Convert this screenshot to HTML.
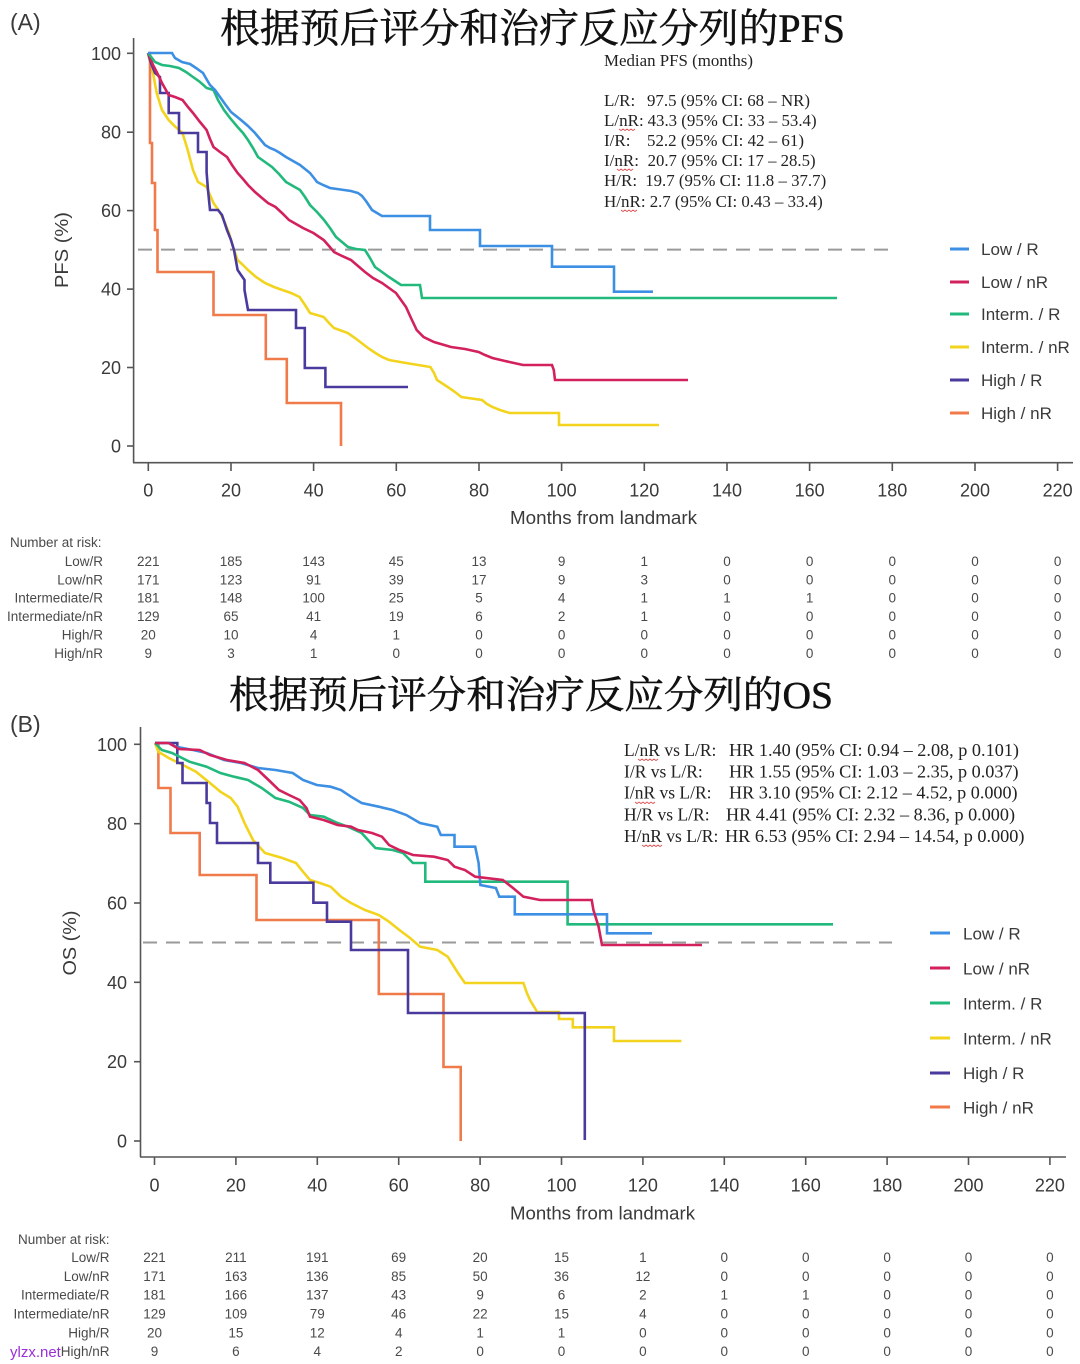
<!DOCTYPE html>
<html><head><meta charset="utf-8"><style>
html,body{margin:0;padding:0;background:#fff;}
svg{display:block;}
.s{font-family:"Liberation Sans",Arial,sans-serif;fill:#3a3a3a;}
.r{font-family:"Liberation Serif","Times New Roman",serif;fill:#222;}
.t{font-family:"Liberation Serif","Noto Serif CJK SC",serif;fill:#111;}
.tk{font-size:18px;}
.tb{font-size:13.5px;fill:#4a4a4a;}
.lg{font-size:17px;}
.c{fill:none;stroke-width:2.6;stroke-linejoin:miter;}
</style></head><body>
<svg width="1080" height="1364" viewBox="0 0 1080 1364" xmlns="http://www.w3.org/2000/svg">
<rect width="1080" height="1364" fill="#fff"/>

<!-- ================= PANEL A ================= -->
<text class="s" x="10" y="30" font-size="23" fill="#333">(A)</text>
<text class="t" x="220" y="42" font-size="40" textLength="625" lengthAdjust="spacingAndGlyphs" stroke="#111" stroke-width="0.5">根据预后评分和治疗反应分列的PFS</text>

<!-- axes A -->
<g stroke="#555" stroke-width="1.6" fill="none">
<line x1="133.6" y1="38" x2="133.6" y2="462.7"/>
<line x1="133" y1="462.7" x2="1073" y2="462.7"/>
<line x1="127" y1="446" x2="133.6" y2="446"/>
<line x1="127" y1="367.5" x2="133.6" y2="367.5"/>
<line x1="127" y1="289.1" x2="133.6" y2="289.1"/>
<line x1="127" y1="210.6" x2="133.6" y2="210.6"/>
<line x1="127" y1="132.2" x2="133.6" y2="132.2"/>
<line x1="127" y1="53.3" x2="133.6" y2="53.3"/>
<line x1="148.3" y1="462.7" x2="148.3" y2="471"/>
<line x1="231" y1="462.7" x2="231" y2="471"/>
<line x1="313.6" y1="462.7" x2="313.6" y2="471"/>
<line x1="396.3" y1="462.7" x2="396.3" y2="471"/>
<line x1="479" y1="462.7" x2="479" y2="471"/>
<line x1="561.6" y1="462.7" x2="561.6" y2="471"/>
<line x1="644.3" y1="462.7" x2="644.3" y2="471"/>
<line x1="727" y1="462.7" x2="727" y2="471"/>
<line x1="809.6" y1="462.7" x2="809.6" y2="471"/>
<line x1="892.3" y1="462.7" x2="892.3" y2="471"/>
<line x1="975" y1="462.7" x2="975" y2="471"/>
<line x1="1057.6" y1="462.7" x2="1057.6" y2="471"/>
</g>
<g class="s tk" text-anchor="end">
<text x="121" y="452.5">0</text>
<text x="121" y="374">20</text>
<text x="121" y="295.6">40</text>
<text x="121" y="217.1">60</text>
<text x="121" y="138.7">80</text>
<text x="121" y="59.8">100</text>
</g>
<g class="s tk" text-anchor="middle">
<text x="148.3" y="496.5">0</text>
<text x="231" y="496.5">20</text>
<text x="313.6" y="496.5">40</text>
<text x="396.3" y="496.5">60</text>
<text x="479" y="496.5">80</text>
<text x="561.6" y="496.5">100</text>
<text x="644.3" y="496.5">120</text>
<text x="727" y="496.5">140</text>
<text x="809.6" y="496.5">160</text>
<text x="892.3" y="496.5">180</text>
<text x="975" y="496.5">200</text>
<text x="1057.6" y="496.5">220</text>
</g>
<text class="s tk" x="510" y="524" textLength="187" lengthAdjust="spacingAndGlyphs">Months from landmark</text>
<text class="s tk" transform="translate(68,250) rotate(-90)" text-anchor="middle" textLength="76" lengthAdjust="spacingAndGlyphs">PFS (%)</text>

<!-- dashed 50% -->
<line x1="138" y1="249.6" x2="892" y2="249.6" stroke="#9a9a9a" stroke-width="2" stroke-dasharray="14 9"/>

<!-- curves A -->
<path class="c" stroke="#f2d41e" d="M148,53 L150,62 L153,73 L156.7,93 L162,110 L168.7,120 L175.6,127 L182.5,133 L187.7,150 L193,170 L198,182 L206.6,187 L210,195 L213.5,203 L220.4,213 L225,223 L229,233 L233,247 L237.6,260 L243,265 L248,270 L256,277 L265,283 L274,287 L282.4,290 L291,293 L299.6,297 L305,305 L310,313 L323.7,317 L329,323 L334,328 L347.8,333 L355,338 L361.6,343 L368,348 L375.4,353 L382,357 L389,360 L406,363 L430.4,367 L434,373 L437,380 L447.7,387 L455,392 L461.4,397 L482,400 L487,404 L492.4,407 L500,410 L509.6,413 L559,413 L559,425 L659,425"/>
<path class="c" stroke="#f07a4a" d="M148,53 L150,53 L150,143 L152,143 L152,183 L155,183 L155,230 L157.5,230 L157.5,272 L213.5,272 L213.5,315 L265.8,315 L265.8,359 L286.8,359 L286.8,403 L341,403 L341,446"/>
<path class="c" stroke="#4b3a9e" d="M148,53 L151,63 L155,73 L160,77 L160,93 L168.7,93 L168.7,113 L179,113 L179,133 L198,133 L198,152 L206.6,152 L206.6,172 L208,190 L210,210 L218,210 L222,215 L227,230 L231,240 L234,250 L237.6,270 L244.5,280 L244.5,290 L248,310 L296,310 L296,328 L304.8,328 L304.8,368 L325.4,368 L325.4,387 L408,387"/>
<path class="c" stroke="#d2215c" d="M148,53 L153,65 L156.7,72 L162,83 L168.7,95 L175,97 L182.5,100 L188,107 L193,113 L200,122 L206.6,130 L210,139 L213.5,147 L220,152 L227,157 L232,165 L237.6,173 L243,179 L248,185 L255,192 L262,198 L268,203 L275.5,207 L282,213 L289,220 L296,224 L303,228 L313.4,233 L323.7,240 L329,246 L334,252 L342,256 L351,260 L358,266 L365,272 L373,278 L382,283 L389,288 L396,293 L401,300 L406,307 L411,318 L416.7,330 L423.6,337 L434,342 L451,347 L465,349 L478.6,352 L485,355 L492.4,358 L505,361 L523,365 L552,365 L553.8,370 L555,380 L688,380"/>
<path class="c" stroke="#22b97c" d="M148,53 L152,58 L155,62 L162,65 L170,66 L179,68 L186,72 L193,77 L200,82 L206.6,88 L213.5,90 L218,100 L224,110 L230,118 L237.6,127 L243,133 L248,140 L253,148 L258,157 L265,162 L272,167 L279,174 L286,182 L293,186 L300,190 L305,197 L310,205 L317,212 L324,220 L330,228 L336,237 L342,242 L348,247 L356,249 L365,250 L370,258 L375,267 L382,272 L389,277 L395,281 L401,285 L420,285 L422,298 L837,298"/>
<path class="c" stroke="#3d8fe3" d="M148,53 L172,53 L175,58 L182,62 L190,64 L196,68 L203,73 L207,80 L210,85 L215,90 L220,97 L225,104 L231,112 L236,116 L241,120 L248,126 L255,133 L260,139 L265,145 L270,148 L275,150 L280,153 L286,157 L293,161 L300,165 L305,169 L310,173 L314,178 L317,182 L323,185 L330,188 L337,189 L344,190 L351,191 L358,193 L362,196 L366,201 L372,210 L377,213 L382,216 L430,216 L430,230 L480,230 L480,246 L552,246 L552,266.7 L614,266.7 L614,291.7 L653,291.7"/>

<!-- median text -->
<g class="r" font-size="17">
<text x="604" y="66" textLength="149" lengthAdjust="spacingAndGlyphs">Median PFS (months)</text>
<text x="604" y="106">L/R:</text><text x="647" y="106" textLength="163" lengthAdjust="spacingAndGlyphs">97.5 (95% CI: 68 – NR)</text>
<text x="604" y="126">L/nR:</text><text x="647.6" y="126" textLength="169" lengthAdjust="spacingAndGlyphs">43.3 (95% CI: 33 – 53.4)</text>
<text x="604" y="146">I/R:</text><text x="647" y="146" textLength="157" lengthAdjust="spacingAndGlyphs">52.2 (95% CI: 42 – 61)</text>
<text x="604" y="166">I/nR:</text><text x="647.6" y="166" textLength="168" lengthAdjust="spacingAndGlyphs">20.7 (95% CI: 17 – 28.5)</text>
<text x="604" y="186">H/R:</text><text x="645.2" y="186" textLength="181" lengthAdjust="spacingAndGlyphs">19.7 (95% CI: 11.8 – 37.7)</text>
<text x="604" y="207">H/nR:</text><text x="649.7" y="207" textLength="173" lengthAdjust="spacingAndGlyphs">2.7 (95% CI: 0.43 – 33.4)</text>
</g>
<g fill="none" stroke="#e05050" stroke-width="0.9">
<path d="M619,129 l2,1.5 l2,-1.5 l2,1.5 l2,-1.5 l2,1.5 l2,-1.5 l2,1.5 l2,-1.5"/>
<path d="M617,169 l2,1.5 l2,-1.5 l2,1.5 l2,-1.5 l2,1.5 l2,-1.5 l2,1.5 l2,-1.5"/>
<path d="M621,210 l2,1.5 l2,-1.5 l2,1.5 l2,-1.5 l2,1.5 l2,-1.5 l2,1.5 l2,-1.5"/>
</g>

<!-- legend A -->
<g stroke-width="3">
<line x1="950" y1="249" x2="969" y2="249" stroke="#3d8fe3"/>
<line x1="950" y1="282" x2="969" y2="282" stroke="#d2215c"/>
<line x1="950" y1="314" x2="969" y2="314" stroke="#22b97c"/>
<line x1="950" y1="347" x2="969" y2="347" stroke="#f2d41e"/>
<line x1="950" y1="380" x2="969" y2="380" stroke="#4b3a9e"/>
<line x1="950" y1="413" x2="969" y2="413" stroke="#f07a4a"/>
</g>
<g class="s lg">
<text x="981" y="255">Low / R</text>
<text x="981" y="288">Low / nR</text>
<text x="981" y="320">Interm. / R</text>
<text x="981" y="353">Interm. / nR</text>
<text x="981" y="386">High / R</text>
<text x="981" y="419">High / nR</text>
</g>

<!-- risk table A -->
<text class="s tb" x="10" y="547">Number at risk:</text>
<g class="s tb" text-anchor="end">
<text x="103" y="566">Low/R</text>
<text x="103" y="584.5">Low/nR</text>
<text x="103" y="602.5">Intermediate/R</text>
<text x="103" y="621">Intermediate/nR</text>
<text x="103" y="639.5">High/R</text>
<text x="103" y="658">High/nR</text>
</g>
<g class="s tb" text-anchor="middle">
<text y="566"><tspan x="148.3">221</tspan><tspan x="231">185</tspan><tspan x="313.6">143</tspan><tspan x="396.3">45</tspan><tspan x="479">13</tspan><tspan x="561.6">9</tspan><tspan x="644.3">1</tspan><tspan x="727">0</tspan><tspan x="809.6">0</tspan><tspan x="892.3">0</tspan><tspan x="975">0</tspan><tspan x="1057.6">0</tspan></text>
<text y="584.5"><tspan x="148.3">171</tspan><tspan x="231">123</tspan><tspan x="313.6">91</tspan><tspan x="396.3">39</tspan><tspan x="479">17</tspan><tspan x="561.6">9</tspan><tspan x="644.3">3</tspan><tspan x="727">0</tspan><tspan x="809.6">0</tspan><tspan x="892.3">0</tspan><tspan x="975">0</tspan><tspan x="1057.6">0</tspan></text>
<text y="602.5"><tspan x="148.3">181</tspan><tspan x="231">148</tspan><tspan x="313.6">100</tspan><tspan x="396.3">25</tspan><tspan x="479">5</tspan><tspan x="561.6">4</tspan><tspan x="644.3">1</tspan><tspan x="727">1</tspan><tspan x="809.6">1</tspan><tspan x="892.3">0</tspan><tspan x="975">0</tspan><tspan x="1057.6">0</tspan></text>
<text y="621"><tspan x="148.3">129</tspan><tspan x="231">65</tspan><tspan x="313.6">41</tspan><tspan x="396.3">19</tspan><tspan x="479">6</tspan><tspan x="561.6">2</tspan><tspan x="644.3">1</tspan><tspan x="727">0</tspan><tspan x="809.6">0</tspan><tspan x="892.3">0</tspan><tspan x="975">0</tspan><tspan x="1057.6">0</tspan></text>
<text y="639.5"><tspan x="148.3">20</tspan><tspan x="231">10</tspan><tspan x="313.6">4</tspan><tspan x="396.3">1</tspan><tspan x="479">0</tspan><tspan x="561.6">0</tspan><tspan x="644.3">0</tspan><tspan x="727">0</tspan><tspan x="809.6">0</tspan><tspan x="892.3">0</tspan><tspan x="975">0</tspan><tspan x="1057.6">0</tspan></text>
<text y="658"><tspan x="148.3">9</tspan><tspan x="231">3</tspan><tspan x="313.6">1</tspan><tspan x="396.3">0</tspan><tspan x="479">0</tspan><tspan x="561.6">0</tspan><tspan x="644.3">0</tspan><tspan x="727">0</tspan><tspan x="809.6">0</tspan><tspan x="892.3">0</tspan><tspan x="975">0</tspan><tspan x="1057.6">0</tspan></text>
</g>

<!-- ================= PANEL B ================= -->
<text class="t" x="229" y="708" font-size="38" textLength="604" lengthAdjust="spacingAndGlyphs" stroke="#111" stroke-width="0.5">根据预后评分和治疗反应分列的OS</text>
<text class="s" x="10" y="732" font-size="23" fill="#333">(B)</text>

<g stroke="#555" stroke-width="1.6" fill="none">
<line x1="140.5" y1="727" x2="140.5" y2="1157"/>
<line x1="140" y1="1157" x2="1066" y2="1157"/>
<line x1="134" y1="1141" x2="140.5" y2="1141"/>
<line x1="134" y1="1061.7" x2="140.5" y2="1061.7"/>
<line x1="134" y1="982.3" x2="140.5" y2="982.3"/>
<line x1="134" y1="903" x2="140.5" y2="903"/>
<line x1="134" y1="823.7" x2="140.5" y2="823.7"/>
<line x1="134" y1="744.3" x2="140.5" y2="744.3"/>
<line x1="154.5" y1="1157" x2="154.5" y2="1165"/>
<line x1="235.9" y1="1157" x2="235.9" y2="1165"/>
<line x1="317.3" y1="1157" x2="317.3" y2="1165"/>
<line x1="398.7" y1="1157" x2="398.7" y2="1165"/>
<line x1="480.1" y1="1157" x2="480.1" y2="1165"/>
<line x1="561.5" y1="1157" x2="561.5" y2="1165"/>
<line x1="642.9" y1="1157" x2="642.9" y2="1165"/>
<line x1="724.3" y1="1157" x2="724.3" y2="1165"/>
<line x1="805.7" y1="1157" x2="805.7" y2="1165"/>
<line x1="887.1" y1="1157" x2="887.1" y2="1165"/>
<line x1="968.5" y1="1157" x2="968.5" y2="1165"/>
<line x1="1049.9" y1="1157" x2="1049.9" y2="1165"/>
</g>
<g class="s tk" text-anchor="end">
<text x="127" y="1147.5">0</text>
<text x="127" y="1068.2">20</text>
<text x="127" y="988.8">40</text>
<text x="127" y="909.5">60</text>
<text x="127" y="830.2">80</text>
<text x="127" y="750.8">100</text>
</g>
<g class="s tk" text-anchor="middle">
<text x="154.5" y="1191.5">0</text>
<text x="235.9" y="1191.5">20</text>
<text x="317.3" y="1191.5">40</text>
<text x="398.7" y="1191.5">60</text>
<text x="480.1" y="1191.5">80</text>
<text x="561.5" y="1191.5">100</text>
<text x="642.9" y="1191.5">120</text>
<text x="724.3" y="1191.5">140</text>
<text x="805.7" y="1191.5">160</text>
<text x="887.1" y="1191.5">180</text>
<text x="968.5" y="1191.5">200</text>
<text x="1049.9" y="1191.5">220</text>
</g>
<text class="s tk" x="510" y="1219.5" textLength="185" lengthAdjust="spacingAndGlyphs">Months from landmark</text>
<text class="s tk" transform="translate(76,943) rotate(-90)" text-anchor="middle" textLength="65" lengthAdjust="spacingAndGlyphs">OS (%)</text>

<line x1="143" y1="942.5" x2="892" y2="942.5" stroke="#9a9a9a" stroke-width="2" stroke-dasharray="14 9"/>

<!-- curves B -->
<path class="c" stroke="#f07a4a" d="M155,743 L158.4,743 L158.4,788 L170.5,788 L170.5,833 L199.7,833 L199.7,875 L256.5,875 L256.5,920 L378.8,920 L378.8,994 L443.5,994 L443.5,1067 L460.7,1067 L460.7,1141"/>
<path class="c" stroke="#f2d41e" d="M155,743 L158.4,751.7 L168.7,758 L179,763 L196,771.7 L210,783 L220.4,791.7 L230.7,798 L237.6,806.7 L244.5,823 L253,840 L265,853 L282.4,858 L296,863 L303,871.7 L310,880 L320,883 L330.6,886.7 L341,896.7 L351,903 L365,910 L378.8,915 L389,921.7 L399.4,930 L410,938 L420,946.7 L437.3,950 L447.7,956.7 L458,973 L464.9,983 L523.4,983 L526.9,993 L530,1000 L537.2,1012 L559,1012 L559,1019 L572.8,1019 L572.8,1027.3 L614,1027.3 L614,1041 L681.4,1041"/>
<path class="c" stroke="#4b3a9e" d="M155,743 L177.3,743 L177.3,763 L182.5,763 L182.5,783 L206.6,783 L206.6,803 L210,803 L210,823 L217,823 L217,843 L258,843 L258,863 L270.3,863 L270.3,882.7 L313.4,882.7 L313.4,902.7 L327,902.7 L327,921.7 L351,921.7 L351,950 L408,950 L408,1013 L584.8,1013 L584.8,1140"/>
<path class="c" stroke="#22b97c" d="M155,743 L161.8,750 L172,753 L189.4,761.7 L206.6,766.7 L220.4,773 L234,776.7 L248,780 L261.7,788 L275.5,798 L289,801.7 L303,808 L310,815 L323.7,816.7 L337.5,823 L347.8,826.7 L361.6,833 L375.4,848 L392.6,850 L403,853 L413,863 L425.3,863 L425.3,881.7 L567.6,881.7 L567.6,924.3 L833,924.3"/>
<path class="c" stroke="#3d8fe3" d="M155,743 L168.7,743 L175.6,746.7 L193,750 L206.6,753 L224,760 L241,763 L258,768 L275.5,770 L292.7,773 L303,780 L316.8,785 L330.6,786.7 L341,790 L351,796.7 L361.6,803 L378.8,806.7 L392.6,810 L406.3,815 L420,823 L437.3,826.7 L440.8,835 L454.5,835 L454.5,846.7 L475.2,846.7 L478.6,863 L480.4,885 L495.9,888 L499.3,896.7 L514.8,896.7 L514.8,914.3 L607,914.3 L607,933.3 L652,933.3"/>
<path class="c" stroke="#d2215c" d="M155,743 L168.7,743 L179,749 L199.7,750 L210,755 L227,760 L244.5,763 L258,770 L268.6,780 L279,790 L289,795 L299.6,800 L306.5,808 L310,816.7 L323.7,820 L337.5,825 L351,826.7 L358,830 L372,833 L382,836.7 L389,845 L399.4,850 L413,855 L434,856.7 L447.7,860 L454.5,866.7 L464.9,870 L475.2,876.7 L502.8,880 L513,888 L523.4,896.7 L540,900 L591.7,900 L593.4,910 L598.6,926.7 L602,945 L702,945"/>

<!-- HR text -->
<g class="r" font-size="17.5">
<text x="624" y="756">L/nR vs L/R:</text><text x="729" y="756" textLength="290" lengthAdjust="spacingAndGlyphs">HR 1.40 (95% CI: 0.94 – 2.08, p 0.101)</text>
<text x="624" y="777.7">I/R vs L/R:</text><text x="729" y="777.7" textLength="289.6" lengthAdjust="spacingAndGlyphs">HR 1.55 (95% CI: 1.03 – 2.35, p 0.037)</text>
<text x="624" y="798.7">I/nR vs L/R:</text><text x="729" y="798.7" textLength="288.6" lengthAdjust="spacingAndGlyphs">HR 3.10 (95% CI: 2.12 – 4.52, p 0.000)</text>
<text x="624" y="820.3">H/R vs L/R:</text><text x="726" y="820.3" textLength="289" lengthAdjust="spacingAndGlyphs">HR 4.41 (95% CI: 2.32 – 8.36, p 0.000)</text>
<text x="624" y="842">H/nR vs L/R:</text><text x="725" y="842" textLength="299.5" lengthAdjust="spacingAndGlyphs">HR 6.53 (95% CI: 2.94 – 14.54, p 0.000)</text>
</g>
<g fill="none" stroke="#e05050" stroke-width="0.9">
<path d="M638,759 l2,1.5 l2,-1.5 l2,1.5 l2,-1.5 l2,1.5 l2,-1.5 l2,1.5 l2,-1.5 l2,1.5 l2,-1.5"/>
<path d="M635,802 l2,1.5 l2,-1.5 l2,1.5 l2,-1.5 l2,1.5 l2,-1.5 l2,1.5 l2,-1.5 l2,1.5 l2,-1.5"/>
<path d="M642,845 l2,1.5 l2,-1.5 l2,1.5 l2,-1.5 l2,1.5 l2,-1.5 l2,1.5 l2,-1.5 l2,1.5 l2,-1.5"/>
</g>

<!-- legend B -->
<g stroke-width="3">
<line x1="930" y1="933" x2="950" y2="933" stroke="#3d8fe3"/>
<line x1="930" y1="968" x2="950" y2="968" stroke="#d2215c"/>
<line x1="930" y1="1003" x2="950" y2="1003" stroke="#22b97c"/>
<line x1="930" y1="1038" x2="950" y2="1038" stroke="#f2d41e"/>
<line x1="930" y1="1073" x2="950" y2="1073" stroke="#4b3a9e"/>
<line x1="930" y1="1107" x2="950" y2="1107" stroke="#f07a4a"/>
</g>
<g class="s lg">
<text x="963" y="939.5">Low / R</text>
<text x="963" y="974.5">Low / nR</text>
<text x="963" y="1009.5">Interm. / R</text>
<text x="963" y="1044.5">Interm. / nR</text>
<text x="963" y="1079">High / R</text>
<text x="963" y="1113.5">High / nR</text>
</g>

<!-- risk table B -->
<text class="s tb" x="18" y="1244">Number at risk:</text>
<g class="s tb" text-anchor="end">
<text x="109.5" y="1262">Low/R</text>
<text x="109.5" y="1281">Low/nR</text>
<text x="109.5" y="1299.5">Intermediate/R</text>
<text x="109.5" y="1318.5">Intermediate/nR</text>
<text x="109.5" y="1337.5">High/R</text>
<text x="109.5" y="1356">High/nR</text>
</g>
<g class="s tb" text-anchor="middle">
<text y="1262"><tspan x="154.5">221</tspan><tspan x="235.9">211</tspan><tspan x="317.3">191</tspan><tspan x="398.7">69</tspan><tspan x="480.1">20</tspan><tspan x="561.5">15</tspan><tspan x="642.9">1</tspan><tspan x="724.3">0</tspan><tspan x="805.7">0</tspan><tspan x="887.1">0</tspan><tspan x="968.5">0</tspan><tspan x="1049.9">0</tspan></text>
<text y="1281"><tspan x="154.5">171</tspan><tspan x="235.9">163</tspan><tspan x="317.3">136</tspan><tspan x="398.7">85</tspan><tspan x="480.1">50</tspan><tspan x="561.5">36</tspan><tspan x="642.9">12</tspan><tspan x="724.3">0</tspan><tspan x="805.7">0</tspan><tspan x="887.1">0</tspan><tspan x="968.5">0</tspan><tspan x="1049.9">0</tspan></text>
<text y="1299.5"><tspan x="154.5">181</tspan><tspan x="235.9">166</tspan><tspan x="317.3">137</tspan><tspan x="398.7">43</tspan><tspan x="480.1">9</tspan><tspan x="561.5">6</tspan><tspan x="642.9">2</tspan><tspan x="724.3">1</tspan><tspan x="805.7">1</tspan><tspan x="887.1">0</tspan><tspan x="968.5">0</tspan><tspan x="1049.9">0</tspan></text>
<text y="1318.5"><tspan x="154.5">129</tspan><tspan x="235.9">109</tspan><tspan x="317.3">79</tspan><tspan x="398.7">46</tspan><tspan x="480.1">22</tspan><tspan x="561.5">15</tspan><tspan x="642.9">4</tspan><tspan x="724.3">0</tspan><tspan x="805.7">0</tspan><tspan x="887.1">0</tspan><tspan x="968.5">0</tspan><tspan x="1049.9">0</tspan></text>
<text y="1337.5"><tspan x="154.5">20</tspan><tspan x="235.9">15</tspan><tspan x="317.3">12</tspan><tspan x="398.7">4</tspan><tspan x="480.1">1</tspan><tspan x="561.5">1</tspan><tspan x="642.9">0</tspan><tspan x="724.3">0</tspan><tspan x="805.7">0</tspan><tspan x="887.1">0</tspan><tspan x="968.5">0</tspan><tspan x="1049.9">0</tspan></text>
<text y="1356"><tspan x="154.5">9</tspan><tspan x="235.9">6</tspan><tspan x="317.3">4</tspan><tspan x="398.7">2</tspan><tspan x="480.1">0</tspan><tspan x="561.5">0</tspan><tspan x="642.9">0</tspan><tspan x="724.3">0</tspan><tspan x="805.7">0</tspan><tspan x="887.1">0</tspan><tspan x="968.5">0</tspan><tspan x="1049.9">0</tspan></text>
</g>

<!-- watermark -->
<text x="10" y="1357" font-family="Liberation Sans, Arial, sans-serif" font-size="15" fill="#9a2fd6">ylzx.net</text>
</svg>
</body></html>
